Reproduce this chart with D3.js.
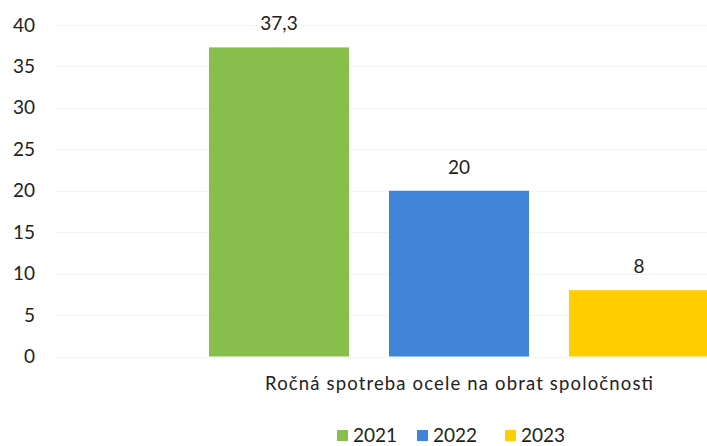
<!DOCTYPE html>
<html>
<head>
<meta charset="utf-8">
<script src="https://cdn.jsdelivr.net/npm/d3@7"></script>
<style>
  html, body { margin: 0; padding: 0; background: #fff; }
  svg { display: block; }
  text { font-family: Lato, "Open Sans", sans-serif; fill: #222; }
</style>
</head>
<body>
<svg id="chart" width="707" height="446"></svg>
<script>
const categories = ["Ročná spotreba ocele na obrat spoločnosti"];
const years = ["2021", "2022", "2023"];
const values = [37.3, 20, 8];
const colors = ["#88be4c", "#3f84d6", "#ffcd00"];
const yTicks = [0, 5, 10, 15, 20, 25, 30, 35, 40];

const svg = d3.select("#chart");
const W = 707, H = 446;

const y = d3.scaleLinear().domain([0, 40]).range([356.5, 25]);
const x0 = d3.scaleBand().domain(categories).range([50, 870]);
const x1 = d3.scaleBand().domain(years).range([209, 709]).paddingInner(0.222);

// gridlines
svg.append("g").selectAll("line").data(yTicks).join("line")
  .attr("x1", 55).attr("x2", W)
  .attr("y1", d => Math.round(y(d)) + 0.5).attr("y2", d => Math.round(y(d)) + 0.5)
  .attr("stroke", "#f4f4f4").attr("stroke-width", 1);

// y axis
const yAxis = svg.append("g").attr("transform", "translate(35,0)")
  .call(d3.axisLeft(y).tickValues(yTicks).tickSize(0).tickPadding(0));
yAxis.select(".domain").remove();
yAxis.selectAll("text").style("font-size", "19px").attr("fill", "#222")
  .style("font-family", "Lato, 'Open Sans', sans-serif");

// bars
const fmt = v => String(v).replace(".", ",");
const data = years.map((yr, i) => ({ yr, v: values[i], c: colors[i] }));
svg.append("g").selectAll("rect").data(data).join("rect")
  .attr("x", d => x1(d.yr)).attr("width", x1.bandwidth())
  .attr("y", d => y(d.v)).attr("height", d => y(0) - y(d.v))
  .attr("fill", d => d.c);

svg.append("g").selectAll("text").data(data).join("text")
  .attr("x", d => x1(d.yr) + x1.bandwidth() / 2)
  .attr("y", d => y(d.v) - 17)
  .attr("text-anchor", "middle")
  .style("font-size", "19px")
  .text(d => fmt(d.v));

// category label
svg.append("text")
  .attr("x", x1("2022") + x1.bandwidth() / 2)
  .attr("y", 390)
  .attr("text-anchor", "middle")
  .attr("textLength", 388)
  .attr("lengthAdjust", "spacing")
  .style("font-size", "18.5px")
  .text(categories[0]);

// legend
const legendX = [337, 417, 505];
const lg = svg.append("g").selectAll("g").data(data).join("g")
  .attr("transform", (d, i) => `translate(${legendX[i]},430)`);
lg.append("rect").attr("width", 11).attr("height", 11).attr("fill", d => d.c);
lg.append("text").attr("x", 16).attr("y", 12).style("font-size", "19px").text(d => d.yr);
</script>
</body>
</html>
